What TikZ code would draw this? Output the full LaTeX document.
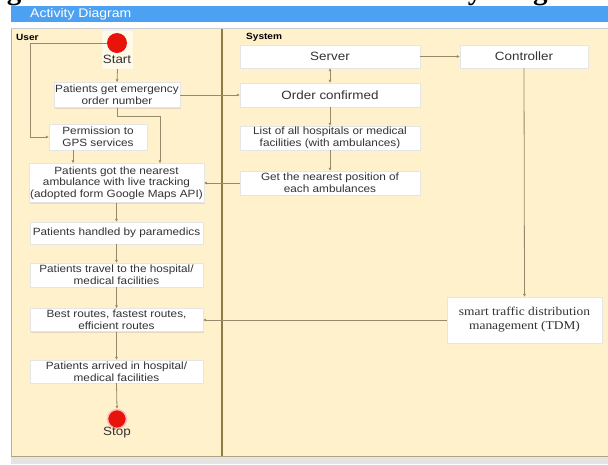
\documentclass[tikz,border=0pt]{standalone}
\usepackage{fontspec}
\setmainfont{Liberation Sans}[FakeStretch=1.12]
\newfontfamily\serifst{Liberation Serif}[FakeStretch=1.12]
\newfontfamily\serifti{Liberation Serif}
\usetikzlibrary{arrows.meta,shadows}
\definecolor{beige}{HTML}{FFF1CC}
\definecolor{barblue}{HTML}{4DA1F2}
\definecolor{lanecol}{HTML}{8E7B45}
\definecolor{linecol}{HTML}{958A6C}
\definecolor{stripgray}{HTML}{E4E4E4}
\definecolor{dotred}{HTML}{E8140C}
\tikzset{
  box/.style={draw=black!10, fill=white, align=center, inner sep=1pt,
    font=\fontsize{10.5}{11.6}\selectfont, text=black!80,
    drop shadow={shadow xshift=1pt, shadow yshift=-1pt, opacity=0.2, fill=gray}},
  sbox/.style={box, font=\fontsize{12}{13}\selectfont},
  arr/.style={draw=linecol, line width=0.8pt, -{Latex[length=3pt,width=3pt]}},
  arrtwo/.style={draw=linecol, line width=0.8pt, {Latex[length=3pt,width=3pt]}-{Latex[length=3pt,width=3pt]}},
  lanelbl/.style={font=\bfseries\fontsize{9}{10}\selectfont, anchor=west, inner sep=0pt},
  frag/.style={inner sep=0pt, font=\serifti\bfseries\fontsize{29}{30}\selectfont},
}
\begin{document}
\begin{tikzpicture}[x=1pt,y=-1pt]
\useasboundingbox (0,0) rectangle (608,464);
% frame
\fill[barblue] (11,6) rectangle (608,22);
\node[anchor=west, text=white, font=\fontsize{12.5}{13}\selectfont, inner sep=0pt] (bartitle) at (30,14) {Activity Diagram};
\draw[black!20, line width=0.6pt] (11,28.5) -- (608,28.5);
\fill[beige] (11,29) rectangle (608,456);
\draw[lanecol!60, line width=0.8pt] (11.4,29) -- (11.4,456);
\fill[stripgray] (11,456) rectangle (608,464);
\draw[lanecol!70, line width=0.8pt] (11,456) -- (608,456);
\draw[lanecol, line width=1.2pt] (222,29) -- (222,456);
% title fragments above the bar: only their descenders fall inside the picture
\begin{scope}
  \clip (0,0) rectangle (608,5.8);
  \node[frag, anchor=base west] (ttl) at (384,-0.5) {Activity Diagram};
  \node[frag, anchor=base] (ttlg) at (14,-0.5) {g};
\end{scope}
\node[lanelbl] (user) at (16,37) {User};
\node[lanelbl] (system) at (246,37) {System};
% start
\node[draw=black!6, fill=white!55!beige, minimum width=32, minimum height=39, inner sep=0pt] (startbg) at (117.5,49.5) {};
\node[circle, fill=dotred, minimum size=20, inner sep=0pt] (start) at (117,43) {};
\node[font=\fontsize{12}{13}\selectfont, text=black!80, inner sep=0pt] (startlbl) at (117,59) {Start};
% user lane boxes
\node[box, minimum width=126, minimum height=25] (e1) at (117,95) {Patients get emergency\\order number};
\node[box, minimum width=98, minimum height=26] (e2) at (98,137) {Permission to\\GPS services};
\node[box, minimum width=173, minimum height=39] (e3) at (116.5,183) {Patients got the nearest\\ambulance with live tracking\\(adopted form Google Maps API)};
\node[box, minimum width=173, minimum height=22] (e4) at (116.5,233) {Patients handled by paramedics};
\node[box, minimum width=173, minimum height=24] (e5) at (116.5,275) {Patients travel to the hospital/\\medical facilities};
\node[box, minimum width=173, minimum height=23] (e6) at (116.5,320) {Best routes, fastest routes,\\efficient routes};
\node[box, minimum width=173, minimum height=23] (e7) at (116.5,371.5) {Patients arrived in hospital/\\medical facilities};
\node[circle, fill=dotred, draw=red!25, line width=1.5pt, minimum size=19, inner sep=0pt] (stop) at (117,419) {};
\node[font=\fontsize{12}{13}\selectfont, text=black!80, inner sep=0pt] (stoplbl) at (117,433) {Stop};
% system lane boxes
\node[sbox, minimum width=180, minimum height=23] (srv) at (330,56.5) {Server};
\node[sbox, minimum width=128, minimum height=23] (ctl) at (524,56.5) {Controller};
\node[sbox, minimum width=180, minimum height=24] (oc) at (330,95) {Order confirmed};
\node[box, minimum width=180, minimum height=24] (list) at (330,138) {List of all hospitals or medical\\facilities (with ambulances)};
\node[box, minimum width=180, minimum height=24] (near) at (330,183) {Get the nearest position of\\each ambulances};
\node[box, font=\serifst\fontsize{12}{14}\selectfont, minimum width=155, minimum height=46] (tdm) at (524.5,320) {smart traffic distribution\\management (TDM)};
% connectors
\draw[arr] (startbg.south) -- (e1.north);
\draw[arr] (start.west) -- ++(-76,0) |- (e2.west);
\draw[arr] (e1.south) -- ++(0,9) -| ([xshift=43.5pt]e3.north);
\draw[arr] ([xshift=-25pt]e2.south) -- ([xshift=-25pt]e2.south |- e3.north);
\draw[arr] (e1.east) -- (oc.west);
\draw[arrtwo] (srv.south) -- (oc.north);
\draw[arr] (srv.east) -- (ctl.west);
\draw[arr] (oc.south) -- (list.north);
\draw[arr] (list.south) -- (near.north);
\draw[arr] (near.west) -- (e3.east);
\draw[arr] (ctl.south) -- (tdm.north);
\draw[arr] (tdm.west) -- (e6.east);
\draw[arr] (e3.south) -- (e4.north);
\draw[arr] (e4.south) -- (e5.north);
\draw[arr] (e5.south) -- (e6.north);
\draw[arr] (e6.south) -- (e7.north);
\draw[arr] (e7.south) -- (stop.north);
\end{tikzpicture}
\end{document}
